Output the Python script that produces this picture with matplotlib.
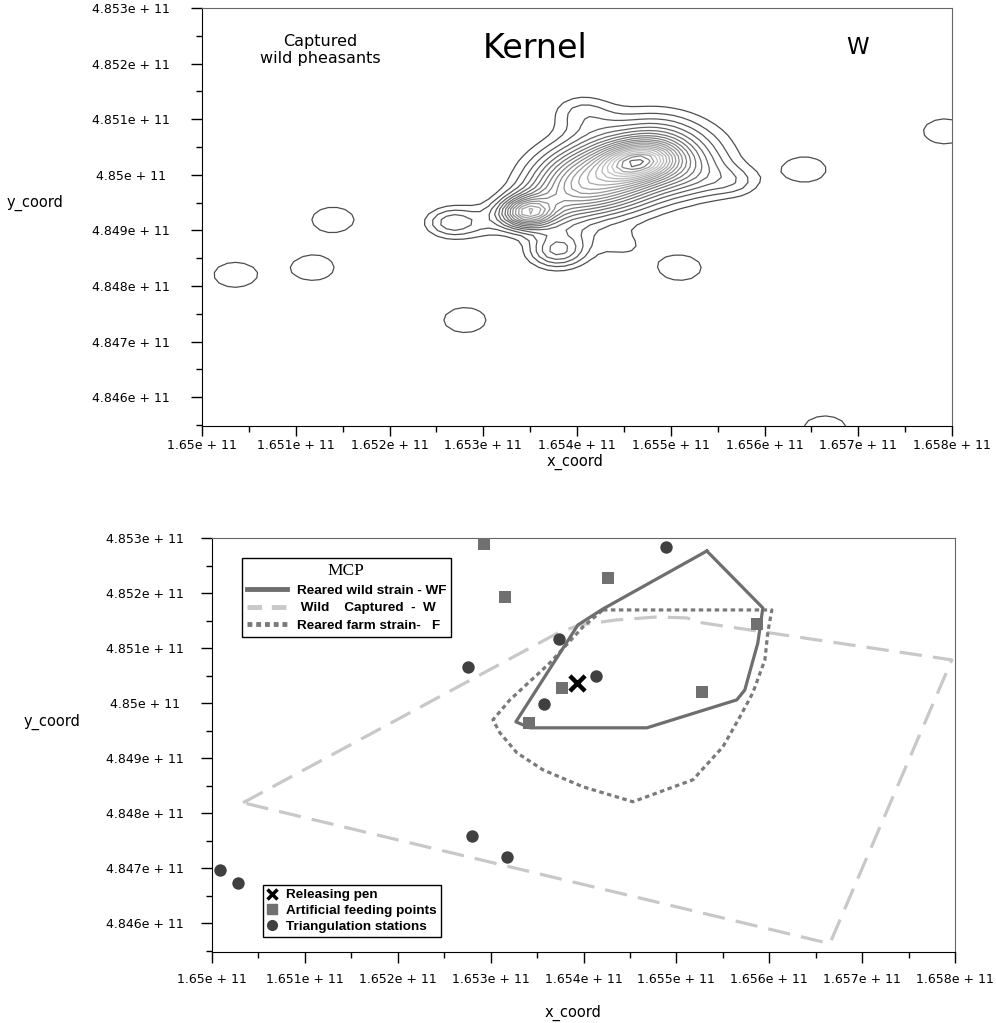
import numpy as np
import matplotlib
matplotlib.use('Agg')
import matplotlib.pyplot as plt
from matplotlib.lines import Line2D
from matplotlib.ticker import MultipleLocator, FuncFormatter

# --- kernel panel: fix clusters of captured wild pheasants (x, y, weight, bandwidth)
kern_x = [1.6543e11, 1.6549e11, 1.65455e11, 1.6548e11, 1.6541e11, 1.6538e11, 1.65347e11,
          1.6530e11, 1.652645e11, 1.65379e11, 1.6539e11, 1.6545e11, 1.6553e11, 1.65571e11,
          1.6548e11, 1.6542e11,
          1.654053e11, 1.656432e11, 1.655099e11, 1.65792e11, 1.651397e11,
          1.651184e11, 1.650352e11, 1.652805e11, 1.656645e11]
kern_y = [4.8500e11, 4.85035e11, 4.8502e11, 4.8503e11, 4.84985e11, 4.84955e11, 4.84932e11,
          4.84915e11, 4.84914e11, 4.84862e11, 4.84895e11, 4.84872e11, 4.84995e11, 4.84986e11,
          4.8509e11, 4.8508e11,
          4.85114e11, 4.850094e11, 4.848325e11, 4.85078e11, 4.849191e11,
          4.848325e11, 4.848199e11, 4.847386e11, 4.845437e11]
kern_w = [1.8, 1.8, 1.5, 1.5, 1.5, 0.8, 3.0, 0.45, 0.95, 1.35, 0.4, 0.4, 0.5, 0.5, 0.2, 0.15,
          0.62, 0.62, 0.62, 0.62, 0.62, 0.62, 0.62, 0.62, 0.62]
kern_bw = [0.45e8, 0.45e8, 0.22e8, 0.22e8, 0.4e8, 0.3e8, 0.2e8, 0.25e8, 0.2e8, 0.22e8,
           0.25e8, 0.22e8, 0.28e8, 0.2e8, 0.3e8, 0.25e8,
           0.24e8, 0.24e8, 0.24e8, 0.24e8, 0.24e8, 0.24e8, 0.24e8, 0.24e8, 0.24e8]

# --- MCP panel
pen_x, pen_y = [1.653929e11], [4.850368e11]
feed_x = [1.652928e11, 1.653154e11, 1.654263e11, 1.655866e11, 1.653767e11, 1.655274e11, 1.653412e11]
feed_y = [4.852891e11, 4.851929e11, 4.852274e11, 4.851439e11, 4.850278e11, 4.850205e11, 4.849642e11]
stat_x = [1.654887e11, 1.653735e11, 1.652756e11, 1.654133e11, 1.653574e11,
          1.652799e11, 1.653175e11, 1.650086e11, 1.65028e11]
stat_y = [4.852837e11, 4.851167e11, 4.850659e11, 4.850495e11, 4.849987e11,
          4.847592e11, 4.847211e11, 4.846975e11, 4.846739e11]

wf_x = [1.655328e11, 1.655931e11, 1.655877e11, 1.655737e11, 1.655651e11,
        1.654682e11, 1.653423e11, 1.653272e11, 1.65394e11, 1.654209e11]
wf_y = [4.852764e11, 4.85173e11, 4.851094e11, 4.850241e11, 4.85006e11,
        4.849552e11, 4.849552e11, 4.849661e11, 4.851421e11, 4.851711e11]
w_x = [1.650334e11, 1.653724e11, 1.653961e11, 1.654359e11, 1.65479e11,
       1.655113e11, 1.655285e11, 1.657966e11, 1.656652e11]
w_y = [4.848191e11, 4.851276e11, 4.851421e11, 4.851512e11, 4.851566e11,
       4.851548e11, 4.851457e11, 4.850786e11, 4.845632e11]
f_x = [1.654209e11, 1.656028e11, 1.655985e11, 1.655953e11, 1.655823e11, 1.655684e11,
       1.655501e11, 1.655178e11, 1.654532e11, 1.653994e11, 1.653563e11, 1.653283e11,
       1.6531e11, 1.653025e11, 1.653208e11, 1.653638e11, 1.653994e11]
f_y = [4.851693e11, 4.851693e11, 4.851294e11, 4.850786e11, 4.850187e11, 4.849751e11,
       4.849207e11, 4.848608e11, 4.848209e11, 4.848481e11, 4.848789e11, 4.849098e11,
       4.849461e11, 4.849697e11, 4.85006e11, 4.850731e11, 4.851385e11]

x_lo, x_hi = 1.65e11, 1.658e11
y_lo, y_hi = 4.84548e11, 4.853e11

fig = plt.figure(figsize=(9.96, 10.23), dpi=100)
W, H = 996, 1023

def sci(v, pos):
    return '%ge + 11' % round(v / 1e11, 4)

def style_axes(ax, ypad):
    ax.set_xlim(x_lo, x_hi)
    ax.set_ylim(y_lo, y_hi)
    ax.xaxis.set_major_locator(MultipleLocator(1e8))
    ax.xaxis.set_minor_locator(MultipleLocator(0.5e8))
    ax.yaxis.set_major_locator(MultipleLocator(1e8))
    ax.yaxis.set_minor_locator(MultipleLocator(0.5e8))
    ax.xaxis.set_major_formatter(FuncFormatter(sci))
    ax.yaxis.set_major_formatter(FuncFormatter(sci))
    ax.tick_params(which='major', length=8, width=1, labelsize=9)
    ax.tick_params(which='minor', length=4, width=1)
    ax.tick_params(axis='y', which='major', pad=ypad)
    for t in ax.get_yticklabels():
        t.set_ha('center')
    for s in ['top', 'right']:
        ax.spines[s].set_color('#666666')
    for s in ['left', 'bottom']:
        ax.spines[s].set_color('black')

# ---------------- top: kernel contours
ax1 = fig.add_axes([202 / W, 1 - 426 / H, 750 / W, 418 / H])
gx = np.linspace(x_lo, x_hi, 90)
gy = np.linspace(y_lo, y_hi, 80)
GX, GY = np.meshgrid(gx, gy)
dens = np.zeros_like(GX)
for kx, ky, kw, kb in zip(kern_x, kern_y, kern_w, kern_bw):
    dens += kw * np.exp(-((GX - kx) ** 2 + (GY - ky) ** 2) / (2 * kb ** 2))
levels = np.arange(0.4, dens.max(), 0.25)
n = len(levels)
grays = np.interp(np.arange(n), [0, n * 0.3, n * 0.8, n - 2, n - 1], [0.3, 0.45, 0.78, 0.5, 0.4])
ax1.contour(GX, GY, dens, levels=levels, colors=[str(g) for g in grays], linewidths=0.9)
style_axes(ax1, 43)
ax1.tick_params(axis='x', which='major', length=7, pad=2)
ax1.tick_params(axis='x', which='minor', length=4)
ax1.text(320 / W, 1 - 50 / H, 'Captured\nwild pheasants', transform=fig.transFigure,
         ha='center', va='center', fontsize=11.5, linespacing=1.15)
ax1.text(535 / W, 1 - 48 / H, 'Kernel', transform=fig.transFigure,
         ha='center', va='center', fontsize=24)
ax1.text(858 / W, 1 - 48 / H, 'W', transform=fig.transFigure,
         ha='center', va='center', fontsize=16.5)
fig.text(35 / W, 1 - 203 / H, 'y_coord', ha='center', va='center', fontsize=10.5)
fig.text(575 / W, 1 - 462 / H, 'x_coord', ha='center', va='center', fontsize=10.5)

# ---------------- bottom: MCP polygons
ax2 = fig.add_axes([212 / W, 1 - 952 / H, 743 / W, 414 / H])
ax2.plot(wf_x + wf_x[:1], wf_y + wf_y[:1], color='#6e6e6e', lw=2.3, zorder=3)
ax2.plot(w_x + w_x[:1], w_y + w_y[:1], color='#c8c8c8', lw=2.3, ls=(0, (7, 3.5)), zorder=2)
ax2.plot(f_x + f_x[:1], f_y + f_y[:1], color='#7a7a7a', lw=2.3, ls=(0, (1.4, 1.1)), zorder=2)
ax2.scatter(feed_x, feed_y, marker='s', s=75, color='#707070', zorder=4, linewidths=0)
ax2.scatter(stat_x, stat_y, marker='o', s=80, color='#404040', zorder=4, linewidths=0)
ax2.scatter(pen_x, pen_y, marker='x', s=120, color='black', linewidths=3.2, zorder=5)
style_axes(ax2, 40)
ax2.tick_params(axis='x', which='major', pad=7)
fig.text(52 / W, 1 - 722 / H, 'y_coord', ha='center', va='center', fontsize=10.5)
fig.text(573 / W, 1 - 1013 / H, 'x_coord', ha='center', va='center', fontsize=10.5)

bold = {'family': 'Liberation Sans', 'weight': 'bold', 'size': 9.7}
mcp_handles = [Line2D([], [], color='#6e6e6e', lw=3.5),
               Line2D([], [], color='#c8c8c8', lw=3.5, ls=(0, (3, 2))),
               Line2D([], [], color='#7a7a7a', lw=3.5, ls=(0, (1, 0.8)))]
mcp_labels = ['Reared wild strain - WF', ' Wild    Captured  -  W', 'Reared farm strain-   F']
leg1 = ax2.legend(mcp_handles, mcp_labels, loc='upper left', bbox_to_anchor=((242 - 212) / 743, (952 - 558) / 414),
                  borderaxespad=0, prop=bold, title='MCP', fancybox=False, framealpha=1,
                  edgecolor='black', handlelength=3.0, handletextpad=0.7, labelspacing=0.4,
                  borderpad=0.35, title_fontproperties={'family': 'Liberation Serif', 'size': 12.5})
leg1.get_frame().set_linewidth(1)
ax2.add_artist(leg1)

pt_handles = [Line2D([], [], ls='none', marker='x', color='black', ms=7, mew=2.5),
              Line2D([], [], ls='none', marker='s', color='#707070', ms=7),
              Line2D([], [], ls='none', marker='o', color='#404040', ms=7)]
leg2 = ax2.legend(pt_handles, ['Releasing pen', 'Artificial feeding points', 'Triangulation stations'],
                  loc='lower left', bbox_to_anchor=((263 - 212) / 743, (952 - 937) / 414),
                  borderaxespad=0, prop=bold, fancybox=False, framealpha=1, edgecolor='black',
                  handlelength=0.8, handletextpad=0.6, labelspacing=0.25, borderpad=0.3)
leg2.get_frame().set_linewidth(1)

fig.savefig('out.png', dpi=100)
